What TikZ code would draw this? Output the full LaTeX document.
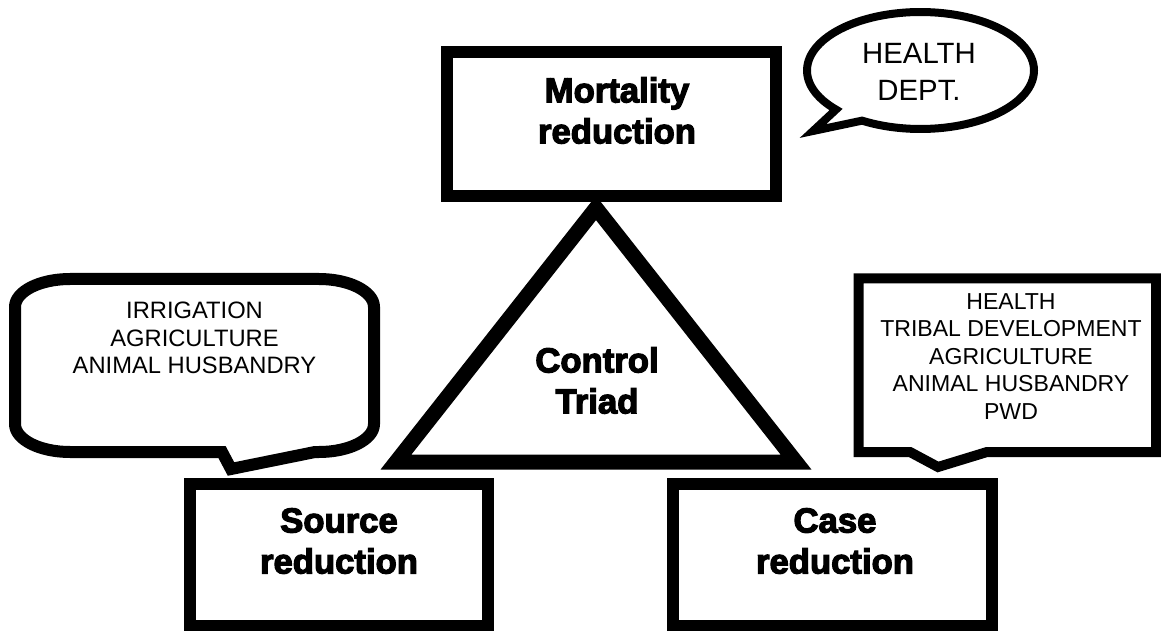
\documentclass[tikz,border=0pt]{standalone}
\usepackage{fontspec}
\setmainfont{Liberation Sans}
\newfontfamily\heavy{Liberation Sans Bold}[FakeBold=3.5]
\tikzset{
  box/.style={draw, line width=9pt, fill=white, inner sep=0pt},
  title/.style={font=\heavy\fontsize{26}{30.75}\selectfont, align=center, anchor=north, inner sep=0pt},
  small/.style={font=\fontsize{17.8}{20.6}\selectfont, align=center, anchor=north, inner sep=0pt},
  smallr/.style={font=\fontsize{17.3}{20.6}\selectfont, align=center, anchor=north, inner sep=0pt},
  bubble/.style={draw, fill=white, line join=miter},
}
\begin{document}
\begin{tikzpicture}[x=0.75pt,y=-0.75pt, line join=miter]
\useasboundingbox (0,0) rectangle (1161,631);
\clip (0,0) rectangle (1161,631);

% triangle
\coordinate (tA) at (596,208);
\coordinate (tB) at (396,462);
\coordinate (tC) at (796,462);
\draw[line width=11.25pt] (tA) -- (tB) -- (tC) -- cycle;
\node[title] (ctrl) at (597,347) {Control\\Triad};

% boxes
\node[box, minimum width=246.75pt, minimum height=108pt] (mort) at (611.5,124) {};
\node[title] (mortT) at (617,77) {Mortality\\reduction};

\node[box, minimum width=223.5pt, minimum height=106.5pt] (src) at (339,555) {};
\node[title] (srcT) at (339,508) {Source\\reduction};

\node[box, minimum width=239.25pt, minimum height=106.5pt] (case) at (832.5,555) {};
\node[title] (caseT) at (835,508) {Case\\reduction};

% left bubble
\draw[bubble, line width=9pt]
  (70,279) -- (319,279)
  .. controls (349.4,279) and (374,291.5) .. (374,307)
  -- (374,424)
  .. controls (374,439.5) and (349.4,452) .. (319,452)
  -- (315,452) -- (231,469) -- (222,452) -- (70,452)
  .. controls (39.6,452) and (15,439.5) .. (15,424)
  -- (15,307)
  .. controls (15,291.5) and (39.6,279) .. (70,279) -- cycle;
\node[small] (srcB) at (194.5,302) {IRRIGATION\\AGRICULTURE\\ANIMAL HUSBANDRY};

% right bubble
\draw[bubble, line width=7.5pt]
  (858.5,278.5) -- (1156,278.5) -- (1156,452) -- (987,452) -- (938,467)
  -- (910,452) -- (858.5,452) -- cycle;
\node[smallr] (caseB) at (1011,293) {HEALTH\\TRIBAL DEVELOPMENT\\AGRICULTURE\\ANIMAL HUSBANDRY\\PWD};

% health dept bubble
\draw[bubble, line width=6pt]
  plot[domain=138.1:481, samples=120] ({920.5+113.5*cos(\x)},{70.5+58.5*sin(\x)})
  -- (813,131) -- cycle;
\node[font=\fontsize{22}{27.75}\selectfont, align=center, anchor=north, inner sep=0pt] (hdT) at (919,43) {HEALTH\\DEPT.};
\end{tikzpicture}
\end{document}
